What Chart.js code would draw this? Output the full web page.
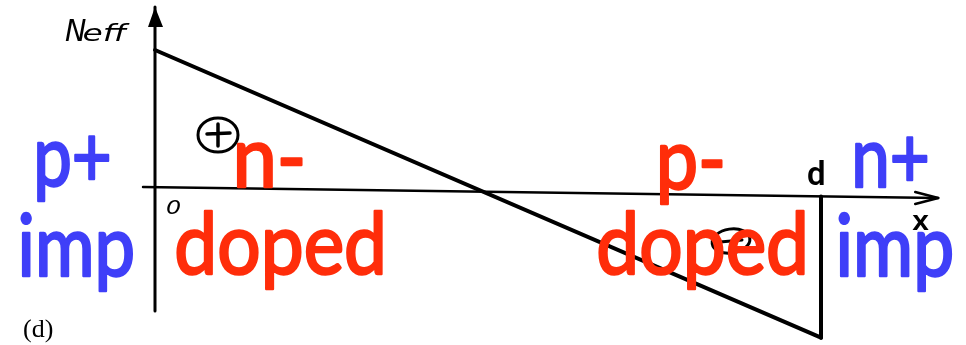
<!DOCTYPE html>
<html><head><meta charset="utf-8">
<script src="https://cdn.jsdelivr.net/npm/chart.js@4"></script>
<style>html,body{margin:0;padding:0;background:#fff;overflow:hidden}</style>
</head><body>
<canvas id="c" width="966" height="345" style="width:966px;height:345px;display:block"></canvas>
<script>
// ---- data ----
const positions   = [0, 1];          // x = 0 and x = d
const neffValues  = [1.0, -1.10];    // Neff(x) at x = 0 and x = d
const wallX       = [1, 1];          // vertical drop at x = d
const wallY       = [-1.10, -0.07];
const xAxisX      = [-0.018, 1.176];
const xAxisY      = [0, -0.08];
const yAxisX      = [0, 0];
const yAxisY      = [-0.905, 1.314];
const regionLabels = ['p+', 'imp', 'n-', 'doped', 'p-', 'doped', 'n+', 'imp'];
const tickLabels   = ['0', 'd', 'x'];
const axisTitle    = ['N', 'eff'];
const panelLabel   = '(d)';

const pts = (xs, ys) => xs.map((x, i) => ({x, y: ys[i]}));

// ---- layout / style (not data) ----
const BLUE = '#3f3ff8', RED = '#ff2d0a';
const regionStyle = [
  {color: BLUE, l: 38,  r: 109, b: 186},
  {color: BLUE, l: 21,  r: 132, b: 276},
  {color: RED,  l: 238, r: 302, b: 187},
  {color: RED,  l: 177, r: 382, b: 274},
  {color: RED,  l: 661, r: 722, b: 189},
  {color: RED,  l: 599, r: 804, b: 274},
  {color: BLUE, l: 856, r: 927, b: 187},
  {color: BLUE, l: 839, r: 951, b: 276}
];
const tickStyle = [
  {l: 166, r: 181, b: 214, font: 'italic 500 19px "DejaVu Sans"'},
  {l: 808, r: 824, b: 185, font: '600 33px Roboto'},
  {l: 912, r: 929, b: 230, font: '500 28px Roboto'}
];
const titleStyle = [
  {l: 65, r: 86,  b: 41, font: 'italic 400 30px "DejaVu Sans"'},
  {l: 84, r: 130, b: 41, font: 'italic 400 23px "DejaVu Sans"'}
];

function fitText(ctx, text, font, color, l, r, b, stroke) {
  ctx.save();
  ctx.font = font;
  ctx.fillStyle = color;
  ctx.strokeStyle = color;
  ctx.textBaseline = 'alphabetic';
  ctx.textAlign = 'left';
  const m = ctx.measureText(text);
  const w = m.actualBoundingBoxLeft + m.actualBoundingBoxRight;
  const sx = (r - l) / w;
  ctx.translate(l + m.actualBoundingBoxLeft * sx, b);
  ctx.scale(sx, 1);
  ctx.fillText(text, 0, 0);
  if (stroke) {
    ctx.lineWidth = stroke; ctx.lineJoin = 'round'; ctx.lineCap = 'round';
    ctx.strokeText(text, 0, 0);
  }
  ctx.restore();
}

const decor = {
  id: 'decor',
  afterDatasetsDraw(chart) {
    const ctx = chart.ctx, xs = chart.scales.x, ys = chart.scales.y;
    ctx.save();
    ctx.strokeStyle = '#000'; ctx.fillStyle = '#000';
    ctx.lineCap = 'round'; ctx.lineJoin = 'round';
    // y-axis arrowhead (filled)
    const tx = xs.getPixelForValue(yAxisX[1]), ty = ys.getPixelForValue(yAxisY[1]);
    ctx.beginPath();
    ctx.moveTo(tx, ty); ctx.lineTo(tx - 7, ty + 20); ctx.lineTo(tx + 8, ty + 20); ctx.closePath();
    ctx.fill();
    // x-axis arrowhead (open)
    const ax = xs.getPixelForValue(xAxisX[1]), ay = ys.getPixelForValue(xAxisY[1]);
    ctx.lineWidth = 2.5;
    ctx.beginPath();
    ctx.moveTo(ax - 23, ay - 6); ctx.lineTo(ax, ay); ctx.lineTo(ax - 23, ay + 6);
    ctx.stroke();
    // charge symbols
    ctx.lineWidth = 3;
    ctx.beginPath(); ctx.ellipse(218, 135, 20, 17, 0, 0, Math.PI * 2); ctx.stroke();
    ctx.lineWidth = 3.5;
    ctx.beginPath(); ctx.moveTo(207, 134); ctx.lineTo(230, 133);
    ctx.moveTo(218, 124); ctx.lineTo(218, 146); ctx.stroke();
    ctx.lineWidth = 3;
    ctx.beginPath(); ctx.ellipse(731, 241, 19, 12, -0.15, 0, Math.PI * 2); ctx.stroke();
    ctx.beginPath(); ctx.moveTo(720, 242); ctx.lineTo(742, 240); ctx.stroke();
    ctx.restore();
    // axis labels
    tickLabels.forEach((t, i) => { const s = tickStyle[i]; fitText(ctx, t, s.font, '#000', s.l, s.r, s.b); });
    axisTitle.forEach((t, i) => { const s = titleStyle[i]; fitText(ctx, t, s.font, '#000', s.l, s.r, s.b); });
    ctx.save();
    ctx.font = '26px "Liberation Serif"'; ctx.fillStyle = '#000';
    ctx.fillText(panelLabel, 23, 337);
    ctx.restore();
    // region labels
    regionLabels.forEach((t, i) => {
      const s = regionStyle[i];
      fitText(ctx, t, '400 85px Lato', s.color, s.l, s.r, s.b, 2.5);
    });
  }
};

const lineDs = (data, w) => ({data, borderColor: '#000', borderWidth: w, pointRadius: 0,
  tension: 0, fill: false, borderCapStyle: 'round', clip: false});

new Chart(document.getElementById('c'), {
  type: 'line',
  data: {datasets: [
    lineDs(pts(xAxisX, xAxisY), 2.5),
    lineDs(pts(yAxisX, yAxisY), 3),
    lineDs(pts(positions, neffValues), 4),
    lineDs(pts(wallX, wallY), 4)
  ]},
  options: {
    responsive: false, animation: false, devicePixelRatio: 1,
    layout: {padding: 0},
    plugins: {legend: {display: false}, tooltip: {enabled: false}},
    scales: {
      x: {type: 'linear', display: false, min: -155 / 666, max: 811 / 666},
      y: {type: 'linear', display: false, min: -158 / 137, max: 187 / 137}
    }
  },
  plugins: [decor]
});
</script>
</body></html>
